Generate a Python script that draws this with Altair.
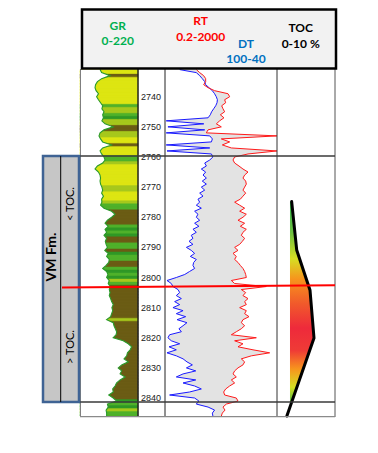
import altair as alt
import numpy as np
import pandas as pd

# ---------------- data ----------------
depth = list(range(2731, 2847))

gr = [76, 82, 114, 82, 66, 59, 57, 61, 70, 63,
      70, 78, 86, 83, 91, 86, 89, 83, 95, 126,
      91, 76, 72, 78, 86, 120, 86, 76, 82, 91,
      95, 86, 66, 57, 70, 76, 78, 76, 78, 83,
      86, 82, 89, 82, 83, 78, 91, 120, 133, 120,
      104, 95, 107, 95, 101, 91, 101, 96, 99, 104,
      94, 107, 101, 111, 109, 99, 86, 101, 106, 101,
      111, 107, 114, 111, 114, 111, 116, 120, 126, 121,
      124, 120, 116, 101, 126, 129, 134, 139, 137, 126,
      164, 183, 196, 190, 180, 177, 167, 183, 158, 145,
      158, 152, 171, 152, 139, 133, 124, 126, 109, 126,
      139, 104, 107, 99, 101, 101]

facies = list("YYBYYYYYYY" "YYGLLGDLLB" "BLLYYBYYYG" "GLYYYYYYYL"
              "LYYYLGGBBB" "BBGDGDBBGG" "BDGGBBGDGD" "LGBBBBBBBB"
              "BBBLBBBBBB" "BBBBBBBBBB" "BBBBBBBBBB" "DGDLGG")

dt = [92.4, 83.5, 81.7, 80.3, 79.0, 78.5, 76.7, 74.9, 73.7, 72.8,
      72.2, 72.4, 73.1, 74.2, 75.3, 76.0, 77.2, 99.6, 79.5, 98.7,
      79.0, 99.6, 76.3, 74.9, 75.4, 99.6, 76.3, 99.2, 75.4, 74.6,
      76.3, 79.0, 78.1, 80.8, 78.5, 79.9, 78.1, 80.3, 78.1, 80.8,
      79.0, 81.7, 79.9, 82.6, 81.7, 83.5, 80.8, 84.4, 82.6, 83.5,
      81.7, 84.4, 82.1, 85.3, 83.5, 86.2, 85.3, 87.4, 85.3, 88.8,
      86.2, 84.4, 86.7, 83.5, 84.9, 85.3, 84.4, 87.1, 89.7, 94.2,
      99.2, 96.9, 96.0, 93.3, 92.4, 94.2, 91.5, 95.1, 92.4, 96.0,
      90.6, 94.2, 89.2, 93.8, 88.5, 90.6, 92.8, 91.5, 97.8, 98.7,
      96.9, 92.4, 98.1, 94.2, 99.2, 94.2, 90.6, 88.5, 85.6, 88.8,
      83.8, 90.6, 94.2, 83.8, 90.6, 84.4, 80.8, 87.1, 97.8, 84.4,
      82.1, 83.5, 77.2, 73.7, 74.9, 74.6]

rt = [2.53, 3.32, 4.61, 5.44, 5.44, 4.61, 6.59, 11.4, 34.1, 39.2,
      25.9, 28.2, 20.3, 22.6, 25.9, 18.2, 24.5, 17.2, 13.1, 19.7,
      6.59, 5.74, 1900, 19.7, 39.2, 21.4, 44.9, 1900, 177, 59.0,
      51.5, 59.0, 84.3, 117, 177, 134, 117, 146, 154, 134,
      117, 146, 117, 94.2, 59.0, 89.1, 134, 89.1, 154, 117,
      77.6, 134, 94.2, 154, 117, 102, 134, 111, 89.1, 59.0,
      77.6, 51.5, 67.7, 59.0, 77.6, 94.2, 117, 134, 146, 154,
      44.9, 59.0, 798, 102, 146, 117, 177, 134, 154, 89.1,
      154, 134, 192, 117, 102, 134, 102, 67.7, 44.9, 351,
      59.0, 117, 77.6, 267, 1050, 233, 102, 134, 117, 77.6,
      59.0, 51.5, 67.7, 44.9, 59.0, 39.2, 28.2, 23.9, 25.9, 67.7,
      77.6, 29.8, 22.6, 26.7, 21.4, 19.7]

toc_depth = [2774.8, 2790.9, 2804.2, 2820.1, 2846.0]
toc = [2.53, 3.40, 5.69, 6.38, 1.70]
toc_fill_depth = [2774.8, 2790.9, 2804.2, 2820.1, 2842.5]
toc_fill = [2.53, 3.40, 5.69, 6.38, 2.30]
toc_base = 2.24

depth_ticks = [2740, 2750, 2760, 2770, 2780, 2790, 2800, 2810, 2820, 2830, 2840]
vm_top, vm_base = 2759.7, 2841.3
toc_line_left, toc_line_right = 2803.3, 2802.6

facies_names = ["Y", "L", "G", "D", "B"]
facies_colors = ["#dde512", "#a6c81c", "#4fb12a", "#2f9826", "#6b5c14"]

# ---------------- frames ----------------
df = pd.DataFrame({"depth": depth, "gr": gr, "facies": facies, "dt": dt, "rt": rt})
df["top"] = np.clip(df["depth"] - 0.5, 2731, 2846)
df["bot"] = np.clip(df["depth"] + 0.9, 2731, 2846)
df["gr0"] = 0.0
df["gr1"] = 220.0
df["f_dt"] = (100 - df["dt"]) / 60.0
df["f_rt"] = np.log10(df["rt"] / 0.2) / 4.0

toc_df = pd.DataFrame({"depth": toc_depth, "toc": toc})
tocf_df = pd.DataFrame({"depth": toc_fill_depth, "toc": toc_fill, "base": toc_base})
tick_df = pd.DataFrame({"depth": depth_ticks, "label": [str(t) for t in depth_ticks]})
vm_df = pd.DataFrame({"top": [vm_top], "bot": [vm_base]})
tops_df = pd.DataFrame({"depth": [vm_top, vm_base]})
red_df = pd.DataFrame({"y1": [toc_line_left], "y2": [toc_line_right]})
one = pd.DataFrame({"a": [0]})

YS = alt.Scale(domain=[2731, 2846], range=[61.6, 408.1], zero=False, nice=False)
GRX = alt.Scale(domain=[0, 220], range=[72, 130], zero=False, nice=False)
TRX = alt.Scale(domain=[0, 1], range=[157.5, 269.5], zero=False, nice=False)
TOCX = alt.Scale(domain=[0, 10], range=[269, 327], zero=False, nice=False)
FAC = alt.Scale(domain=facies_names, range=facies_colors)


def Y(f="depth"):
    return alt.Y(f"{f}:Q", scale=YS, axis=None)


layers = []

# GR track
layers.append(alt.Chart(df).mark_rect(strokeWidth=0.4).encode(
    x=alt.X("gr0:Q", scale=GRX, axis=None), x2="gr1:Q",
    y=Y("top"), y2="bot:Q",
    color=alt.Color("facies:N", scale=FAC, legend=None),
    stroke=alt.Stroke("facies:N", scale=FAC, legend=None),
    order=alt.Order("depth:Q")))
layers.append(alt.Chart(df).mark_area(orient="horizontal", color="white").encode(
    x=alt.X("gr0:Q", scale=GRX, axis=None), x2="gr:Q", y=Y()))
layers.append(alt.Chart(df).mark_line(color="#2a9a2a", strokeWidth=1.1).encode(
    x=alt.X("gr:Q", scale=GRX, axis=None), y=Y(), order="depth:Q"))

# RT / DT track
layers.append(alt.Chart(df).mark_area(orient="horizontal", color="#e3e3e3").encode(
    x=alt.X("f_dt:Q", scale=TRX, axis=None), x2="f_rt:Q", y=Y()))
layers.append(alt.Chart(df).mark_line(color="#1a1aff", strokeWidth=1).encode(
    x=alt.X("f_dt:Q", scale=TRX, axis=None), y=Y(), order="depth:Q"))
layers.append(alt.Chart(df).mark_line(color="#ff1a1a", strokeWidth=1).encode(
    x=alt.X("f_rt:Q", scale=TRX, axis=None), y=Y(), order="depth:Q"))

# TOC track
grad = alt.Gradient(
    gradient="linear", x1=0, x2=0, y1=0, y2=1,
    stops=[alt.GradientStop(offset=0.0, color="#2fb34a"),
           alt.GradientStop(offset=0.15, color="#6cc040"),
           alt.GradientStop(offset=0.28, color="#d6df23"),
           alt.GradientStop(offset=0.38, color="#f7941d"),
           alt.GradientStop(offset=0.50, color="#f15a2b"),
           alt.GradientStop(offset=0.62, color="#ee2a3b"),
           alt.GradientStop(offset=0.73, color="#ef3b36"),
           alt.GradientStop(offset=0.82, color="#f7941d"),
           alt.GradientStop(offset=0.91, color="#d6df23"),
           alt.GradientStop(offset=1.0, color="#39b54a")])
layers.append(alt.Chart(tocf_df).mark_area(orient="horizontal", fill=grad).encode(
    x=alt.X("toc:Q", scale=TOCX, axis=None), x2="base:Q", y=Y()))
layers.append(alt.Chart(toc_df).mark_line(color="black", strokeWidth=3, strokeCap="round").encode(
    x=alt.X("toc:Q", scale=TOCX, axis=None), y=Y(), order="depth:Q"))

# track frame lines
for xv, col, sw in [(72.5, "#7f7f7f", 1), (130, "#222222", 1.5), (157, "#222222", 1),
                    (269, "#333333", 1), (327, "#555555", 1)]:
    layers.append(alt.Chart(one).mark_rule(color=col, strokeWidth=sw).encode(
        x=alt.value(xv), y=alt.value(61), y2=alt.value(409)))
layers.append(alt.Chart(one).mark_rule(color="#8a8a8a", strokeWidth=1.2).encode(
    x=alt.value(72), x2=alt.value(327), y=alt.value(408.6)))

# depth labels
layers.append(alt.Chart(tick_df).mark_text(fontSize=9, font="Liberation Sans", color="#222222",
                                           baseline="middle", align="center").encode(
    x=alt.value(143), y=Y(), text="label:N"))

# formation tops
layers.append(alt.Chart(tops_df).mark_rule(color="#3a3a3a", strokeWidth=1.5).encode(
    x=alt.value(72), x2=alt.value(327), y=Y()))

# VM Fm. box
layers.append(alt.Chart(vm_df).mark_rect(fill="#c6c6c6", stroke="#3f6394", strokeWidth=2.5).encode(
    x=alt.value(35), x2=alt.value(71), y=Y("top"), y2="bot:Q"))
layers.append(alt.Chart(vm_df).mark_rule(color="black", strokeWidth=1).encode(
    x=alt.value(52.7), y=Y("top"), y2="bot:Q"))
layers.append(alt.Chart(one).mark_text(text="VM Fm.", angle=270, font="Lato", fontSize=14,
                                       fontWeight="bold", color="black", baseline="middle").encode(
    x=alt.value(44), y=alt.value(249)))
layers.append(alt.Chart(one).mark_text(text="< TOC.", angle=270, font="Lato", fontSize=11,
                                       color="black", baseline="middle").encode(
    x=alt.value(63), y=alt.value(196)))
layers.append(alt.Chart(one).mark_text(text="> TOC.", angle=270, font="Lato", fontSize=11,
                                       color="black", baseline="middle").encode(
    x=alt.value(63), y=alt.value(339)))

# TOC boundary (red line)
layers.append(alt.Chart(red_df).mark_rule(color="#ff0000", strokeWidth=2).encode(
    x=alt.value(54), x2=alt.value(327), y=Y("y1"), y2="y2:Q"))

# header box
layers.append(alt.Chart(one).mark_rect(fill="#f2f2f2", stroke="black", strokeWidth=2.5).encode(
    x=alt.value(74), x2=alt.value(328), y=alt.value(1.5), y2=alt.value(60.5)))
for txt, xv, yv, col in [("GR", 109.7, 18, "#00b050"), ("0-220", 109.7, 33, "#00b050"),
                         ("RT", 192.7, 13, "#ff0000"), ("0.2-2000", 192.7, 29.3, "#ff0000"),
                         ("DT", 238, 36.3, "#0070c0"), ("100-40", 238, 51.3, "#0070c0"),
                         ("TOC", 292.7, 19.7, "black"), ("0-10 %", 292.7, 36, "black")]:
    layers.append(alt.Chart(one).mark_text(text=txt, font="Lato", fontSize=12, fontWeight="bold",
                                           color=col, baseline="middle", align="center").encode(
        x=alt.value(xv), y=alt.value(yv)))

chart = alt.layer(*layers).resolve_scale(x="independent").properties(
    width=362, height=437, padding=0,
    autosize=alt.AutoSizeParams(type="none"),
).configure_view(stroke=None)

chart.save("out.html", embed_options={"renderer": "svg", "actions": False})
